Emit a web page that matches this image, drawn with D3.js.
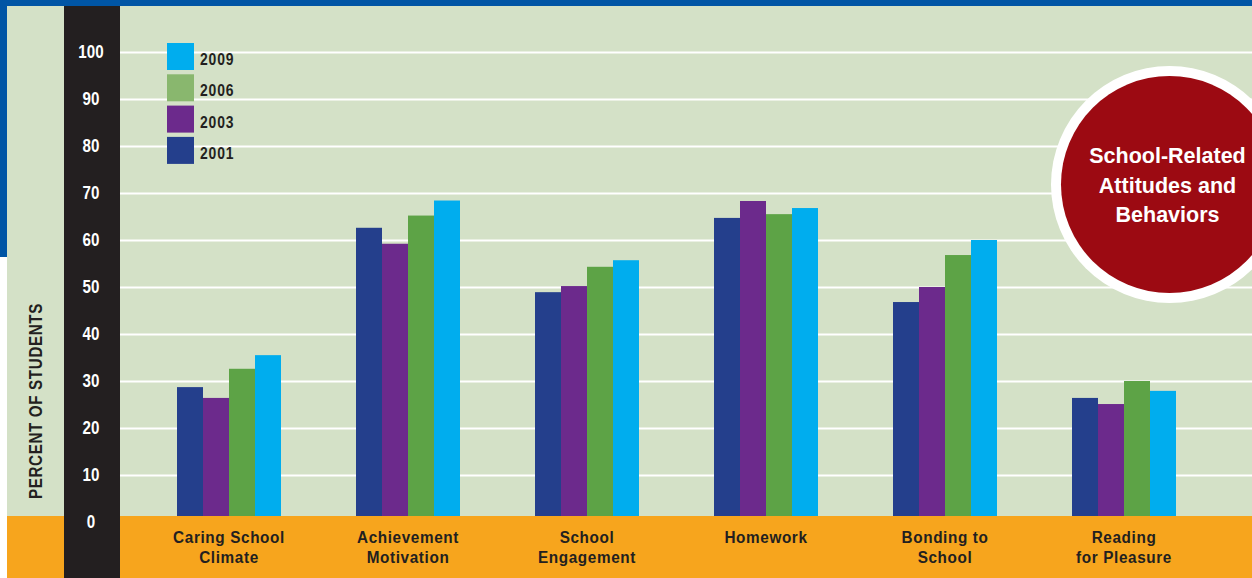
<!DOCTYPE html>
<html>
<head>
<meta charset="utf-8">
<script src="https://cdn.jsdelivr.net/npm/d3@7/dist/d3.min.js"></script>
<style>
  html, body { margin: 0; padding: 0; background: #ffffff; }
  svg { display: block; }
  .cond { font-family: "Liberation Sans", Arial, Helvetica, sans-serif; font-weight: bold; }
  .sans { font-family: "Liberation Sans", Arial, Helvetica, sans-serif; font-weight: bold; }
</style>
</head>
<body>
<svg id="chart" width="1252" height="578"></svg>
<script>
// ---- data ----
const categories = ["Caring School Climate", "Achievement Motivation", "School Engagement", "Homework", "Bonding to School", "Reading for Pleasure"];
const categoryLines = [["Caring School", "Climate"], ["Achievement", "Motivation"], ["School", "Engagement"], ["Homework"], ["Bonding to", "School"], ["Reading", "for Pleasure"]];
const years = ["2001", "2003", "2006", "2009"];
const values2001 = [28.7, 62.6, 48.9, 64.7, 46.8, 26.4];
const values2003 = [26.4, 59.2, 50.2, 68.3, 50.0, 25.1];
const values2006 = [32.6, 65.2, 54.3, 65.5, 56.8, 30.0];
const values2009 = [35.5, 68.4, 55.7, 66.8, 60.0, 27.9];
const yTicks = [0, 10, 20, 30, 40, 50, 60, 70, 80, 90, 100];
const legendOrder = ["2009", "2006", "2003", "2001"];
const yTitle = "PERCENT OF STUDENTS";
const badgeLines = ["School-Related", "Attitudes and", "Behaviors"];

const series = { "2001": values2001, "2003": values2003, "2006": values2006, "2009": values2009 };
const barColors = { "2001": "#243f8c", "2003": "#6c2a8c", "2006": "#5da346", "2009": "#00adee" };
const legendColors = { "2001": "#243f8c", "2003": "#6c2a8c", "2006": "#89b76e", "2009": "#00adee" };

const W = 1252, H = 578;
const svg = d3.select("#chart");

// scales
const y = d3.scaleLinear().domain([0, 100]).range([522, 52]);
const x0 = d3.scaleBand().domain(categories).range([139.5, 1213.5]).paddingInner(0.419).paddingOuter(0.2095);
const x1 = d3.scaleBand().domain(years).range([0, x0.bandwidth()]).padding(0);

// condensed text helper
function condText(parent, tx, ty, str, size, spacing, anchor, fill, cond, rot) {
  return parent.append("text").attr("class", "cond")
    .attr("transform", `translate(${tx},${ty})${rot ? ` rotate(${rot})` : ""} scale(${cond},1)`)
    .attr("text-anchor", anchor).attr("font-size", size)
    .attr("letter-spacing", spacing).attr("fill", fill).text(str);
}

// background
svg.append("rect").attr("x", 7).attr("y", 0).attr("width", W - 7).attr("height", H).attr("fill", "#d4e1c7");

// gridlines through axis
const axis = d3.axisLeft(y).tickValues(yTicks).tickSize(-(W - 120)).tickFormat("");
const gAxis = svg.append("g").attr("transform", "translate(120,0)").call(axis);
gAxis.select(".domain").remove();
gAxis.selectAll(".tick line").attr("stroke", "#ffffff").attr("stroke-width", 2.2);
gAxis.selectAll(".tick text").remove();

// bars
const gBars = svg.append("g");
categories.forEach((c, i) => {
  years.forEach(yr => {
    const v = series[yr][i];
    gBars.append("rect")
      .attr("x", x0(c) + x1(yr))
      .attr("y", y(v))
      .attr("width", x1.bandwidth())
      .attr("height", y(0) - y(v))
      .attr("fill", barColors[yr]);
  });
});

// orange band
svg.append("rect").attr("x", 7).attr("y", 516).attr("width", W - 7).attr("height", H - 516).attr("fill", "#f7a51d");

// black axis column
svg.append("rect").attr("x", 64).attr("y", 0).attr("width", 56).attr("height", H).attr("fill", "#231f20");

// tick labels
const gTicks = svg.append("g");
yTicks.forEach(d => condText(gTicks, 91, y(d) + 5.5, d, 18.5, 0, "middle", "#ffffff", 0.82));

// category labels
const gCat = svg.append("g");
categories.forEach((c, i) => {
  const cx = x0(c) + x0.bandwidth() / 2;
  categoryLines[i].forEach((ln, j) => condText(gCat, cx, 543 + j * 19.5, ln, 17, 0.7, "middle", "#231f20", 0.9));
});

// legend
const gLeg = svg.append("g");
legendOrder.forEach((yr, i) => {
  const ty = 43 + i * 31.3;
  gLeg.append("rect").attr("x", 167).attr("y", ty).attr("width", 27).attr("height", 27).attr("fill", legendColors[yr]);
  condText(gLeg, 200, ty + 22, yr, 17, 1, "start", "#231f20", 0.82);
});

// y title
condText(svg, 41.5, 401, yTitle, 18.5, 0.8, "middle", "#231f20", 0.82, -90);

// badge circle
svg.append("circle").attr("cx", 1169.5).attr("cy", 184.5).attr("r", 118.5).attr("fill", "#ffffff");
svg.append("circle").attr("cx", 1169.5).attr("cy", 184.5).attr("r", 108.5).attr("fill", "#9c0a12");
const badge = svg.append("text").attr("class", "sans").attr("text-anchor", "middle")
  .attr("font-size", 21.5).attr("fill", "#ffffff");
badgeLines.forEach((ln, j) => {
  badge.append("tspan").attr("x", 1167.5).attr("y", 163 + j * 29.5).text(ln);
});

// frame: top blue band, left blue strip, white below
svg.append("rect").attr("x", 0).attr("y", 0).attr("width", W).attr("height", 6).attr("fill", "#0055a5");
svg.append("rect").attr("x", 0).attr("y", 0).attr("width", 7).attr("height", 257).attr("fill", "#0055a5");
</script>
</body>
</html>
